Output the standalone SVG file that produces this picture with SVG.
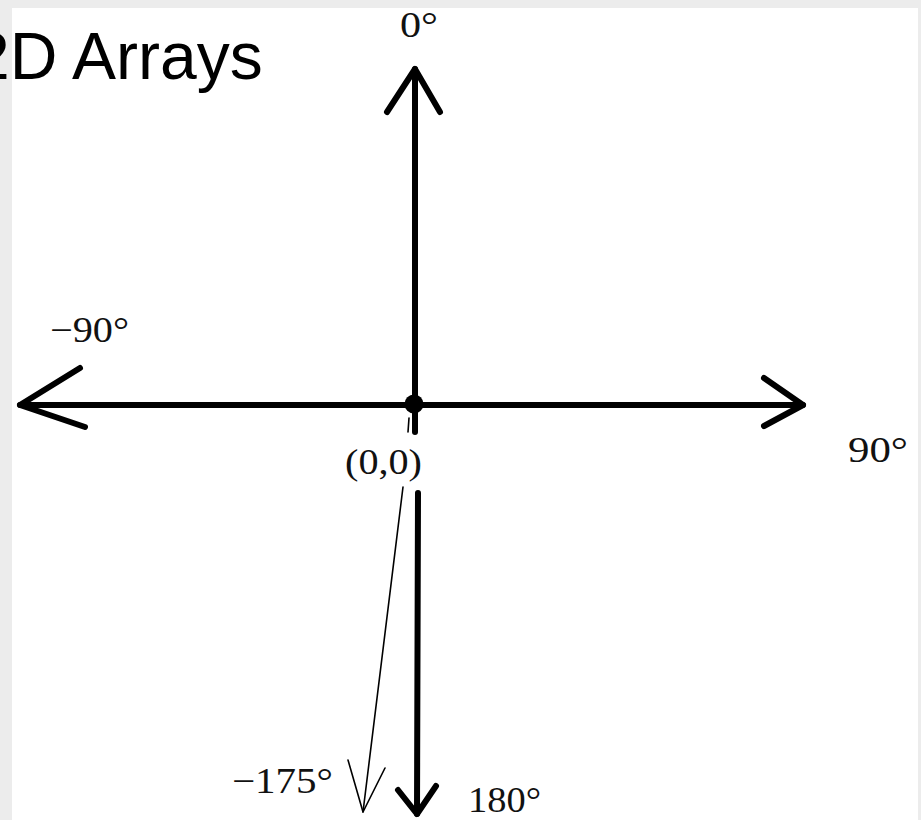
<svg xmlns="http://www.w3.org/2000/svg" width="921" height="820" viewBox="0 0 921 820">
<style>
.axis{stroke:#000;stroke-width:6;fill:none;stroke-linecap:round;stroke-linejoin:round}
.thin{stroke:#000;stroke-width:1.6;fill:none;stroke-linecap:round;stroke-linejoin:round}
.lbl{font-family:"Liberation Serif","Times New Roman",serif;font-size:36px;fill:#111}
.title{font-family:"Liberation Sans",Arial,sans-serif;font-size:66px;fill:#000}
</style>
<rect x="0" y="0" width="921" height="820" fill="#ececec"/>
<rect x="12" y="8" width="906" height="812" fill="#ffffff"/>
<text class="title" x="-27" y="79">2D Arrays</text>
<g id="connectors">
<path class="axis" d="M415,69 L415,432"/>
<path class="axis" d="M387,112 L415,69 L440,112"/>
<path class="axis" d="M20,405 L803,405"/>
<path class="axis" d="M80,368 L20,405 L85,427"/>
<path class="axis" d="M764,378 L803,405 L764,426"/>
<path class="axis" d="M418,493 L417,814"/>
<path class="axis" d="M398,790 L417,814 L436,786"/>
<path class="thin" d="M409,418 L408,432"/>
<path class="thin" d="M403,487 L363,812"/>
<path class="thin" d="M348,760 L363,812 L385,768"/>
</g>
<g id="origin">
<circle cx="414" cy="404" r="9.5" fill="#000"/>
<text class="lbl" x="345" y="474" textLength="77" lengthAdjust="spacingAndGlyphs">(0,0)</text>
</g>
<g id="label-0"><text class="lbl" x="400" y="37" textLength="38" lengthAdjust="spacingAndGlyphs">0°</text></g>
<g id="label-m90"><text class="lbl" x="50" y="342" textLength="79" lengthAdjust="spacingAndGlyphs">−90°</text></g>
<g id="label-90"><text class="lbl" x="848" y="462" textLength="60" lengthAdjust="spacingAndGlyphs">90°</text></g>
<g id="label-m175"><text class="lbl" x="232" y="793" textLength="101" lengthAdjust="spacingAndGlyphs">−175°</text></g>
<g id="label-180"><text class="lbl" x="468" y="812" textLength="73" lengthAdjust="spacingAndGlyphs">180°</text></g>
</svg>
